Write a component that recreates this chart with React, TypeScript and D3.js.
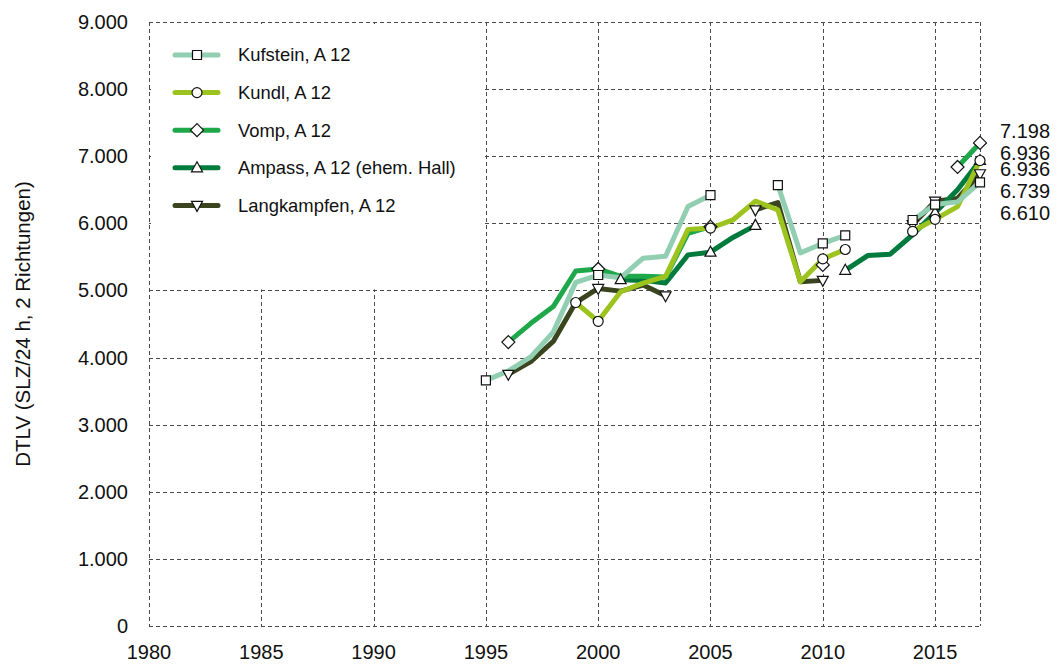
// DTLV time series - A 12 counting stations
import React, { useEffect, useRef } from 'react';
import * as d3 from 'd3';

const years = [1995, 1996, 1997, 1998, 1999, 2000, 2001, 2002, 2003, 2004, 2005, 2006,
  2007, 2008, 2009, 2010, 2011, 2012, 2013, 2014, 2015, 2016, 2017];

const kufstein = [3660, 3800, 4010, 4380, 5120, 5230, 5190, 5480, 5510, 6250, 6420, null,
  null, 6570, 5560, 5700, 5820, null, null, 6050, 6280, 6320, 6610];
const kundl = [null, null, null, null, 4820, 4540, 4980, 5110, 5210, 5910, 5930, 6050,
  6330, 6200, 5130, 5470, 5610, null, null, 5880, 6060, 6250, 6936];
const vomp = [null, 4230, 4510, 4760, 5290, 5320, 5210, 5210, 5200, 5850, 5950, null,
  null, null, null, 5380, null, null, null, null, null, 6840, 7198];
const ampass = [null, null, null, null, null, null, 5160, 5150, 5110, 5530, 5570, 5790,
  5970, null, null, null, 5300, 5520, 5540, 5830, 6160, 6500, 6936];
const langkampfen = [null, 3750, 3940, 4240, 4820, 5030, 4990, 5080, 4920, null, null, null,
  6200, 6310, 5130, 5150, null, null, null, 5980, 6330, 6370, 6739];

const seriesNames = ['Kufstein, A 12', 'Kundl, A 12', 'Vomp, A 12', 'Ampass, A 12 (ehem. Hall)', 'Langkampfen, A 12'];
const seriesValues = [kufstein, kundl, vomp, ampass, langkampfen];
const seriesColors = ['#92ceb2', '#9dc41e', '#1ea84a', '#007a3d', '#3a4520'];
const seriesMarkers = ['square', 'circle', 'diamond', 'triangleUp', 'triangleDown'];

const xTicks = [1980, 1985, 1990, 1995, 2000, 2005, 2010, 2015];
const yTicks = [0, 1000, 2000, 3000, 4000, 5000, 6000, 7000, 8000, 9000];

// end labels (top to bottom)
const endValues = [7198, 6936, 6936, 6739, 6610];
const endNudge = [-12, -8, 8, 17, 31];

const FONT = '"Liberation Sans", Arial, Helvetica, sans-serif';

const markerPath = (type: string, cx: number, cy: number) => {
  switch (type) {
    case 'square':
      return `M${cx - 4.5},${cy - 4.5}h9v9h-9Z`;
    case 'circle':
      return `M${cx + 5},${cy}A5,5 0 1,1 ${cx - 5},${cy}A5,5 0 1,1 ${cx + 5},${cy}Z`;
    case 'diamond':
      return `M${cx},${cy - 6.5}L${cx + 6.5},${cy}L${cx},${cy + 6.5}L${cx - 6.5},${cy}Z`;
    case 'triangleUp':
      return `M${cx},${cy - 6}L${cx + 5.5},${cy + 4}L${cx - 5.5},${cy + 4}Z`;
    default:
      return `M${cx},${cy + 6}L${cx + 5.5},${cy - 4}L${cx - 5.5},${cy - 4}Z`;
  }
};

const App: React.FC = () => {
  const svgRef = useRef<SVGSVGElement>(null);

  useEffect(() => {
    if (!svgRef.current) return;
    const svg = d3.select(svgRef.current);
    svg.selectAll('*').remove();

    const x = d3.scaleLinear().domain([1980, 2017]).range([149, 980]);
    const y = d3.scaleLinear().domain([0, 9000]).range([626, 22]);
    const fmt = d3.formatLocale({ decimal: ',', thousands: '.', grouping: [3], currency: ['', ''] }).format(',');

    const grid = svg.append('g')
      .attr('stroke', '#4a4a4a')
      .attr('stroke-width', 1)
      .attr('stroke-dasharray', '4,3')
      .attr('shape-rendering', 'crispEdges');

    yTicks.forEach(t => {
      grid.append('line')
        .attr('x1', x(1980)).attr('x2', x(2017))
        .attr('y1', Math.round(y(t)) + 0.5).attr('y2', Math.round(y(t)) + 0.5);
    });
    [...xTicks, 2017].forEach(t => {
      grid.append('line')
        .attr('x1', Math.round(x(t)) + 0.5).attr('x2', Math.round(x(t)) + 0.5)
        .attr('y1', y(9000)).attr('y2', y(0));
    });

    // legend box hides the inner grid cells
    svg.append('rect')
      .attr('x', x(1980) + 2)
      .attr('y', y(9000) + 2)
      .attr('width', x(1995) - x(1980) - 3)
      .attr('height', y(5000) - y(9000) - 3)
      .attr('fill', '#fff');

    // y tick labels
    svg.append('g').selectAll('text')
      .data(yTicks)
      .enter()
      .append('text')
      .attr('x', 128)
      .attr('y', d => y(d))
      .attr('dy', '0.35em')
      .attr('text-anchor', 'end')
      .attr('font-family', FONT)
      .attr('font-size', '20px')
      .attr('fill', '#111')
      .text(d => fmt(d));

    // x tick labels
    svg.append('g').selectAll('text')
      .data(xTicks)
      .enter()
      .append('text')
      .attr('x', d => x(d))
      .attr('y', 659)
      .attr('text-anchor', 'middle')
      .attr('font-family', FONT)
      .attr('font-size', '20px')
      .attr('fill', '#111')
      .text(d => String(d));

    svg.append('text')
      .attr('transform', `translate(30,${(y(0) + y(9000)) / 2}) rotate(-90)`)
      .attr('text-anchor', 'middle')
      .attr('font-family', FONT)
      .attr('font-size', '20.5px')
      .attr('fill', '#111')
      .text('DTLV (SLZ/24 h, 2 Richtungen)');

    // lines (last series at the bottom)
    const line = d3.line<number | null>()
      .defined(d => d !== null)
      .x((_, i) => x(years[i]))
      .y(d => y(d as number));

    const order = [4, 3, 2, 1, 0];
    order.forEach(s => {
      svg.append('path')
        .datum(seriesValues[s])
        .attr('d', line)
        .attr('fill', 'none')
        .attr('stroke', seriesColors[s])
        .attr('stroke-width', 5)
        .attr('stroke-linejoin', 'round');
    });

    // markers: every 5 years, at segment ends, and the last year
    order.forEach(s => {
      const vals = seriesValues[s];
      vals.forEach((v, i) => {
        if (v === null) return;
        const prev = i > 0 ? vals[i - 1] : null;
        const next = i < vals.length - 1 ? vals[i + 1] : null;
        const show = years[i] % 5 === 0 || prev === null || next === null;
        if (!show) return;
        svg.append('path')
          .attr('d', markerPath(seriesMarkers[s], x(years[i]), y(v)))
          .attr('fill', '#fff')
          .attr('stroke', '#111')
          .attr('stroke-width', 1.2);
      });
    });

    // end value labels
    svg.append('g').selectAll('text')
      .data(endValues)
      .enter()
      .append('text')
      .attr('x', 1000)
      .attr('y', (d, i) => y(d) + endNudge[i])
      .attr('dy', '0.35em')
      .attr('font-family', FONT)
      .attr('font-size', '20px')
      .attr('fill', '#111')
      .text(d => fmt(d));

    // legend
    const legend = svg.append('g');
    seriesNames.forEach((name, i) => {
      const ly = 55 + i * 37.6;
      legend.append('line')
        .attr('x1', 175).attr('x2', 218)
        .attr('y1', ly).attr('y2', ly)
        .attr('stroke', seriesColors[i])
        .attr('stroke-width', 5)
        .attr('stroke-linecap', 'round');
      legend.append('path')
        .attr('d', markerPath(seriesMarkers[i], 197, ly))
        .attr('fill', '#fff')
        .attr('stroke', '#111')
        .attr('stroke-width', 1.2);
      legend.append('text')
        .attr('x', 238)
        .attr('y', ly)
        .attr('dy', '0.35em')
        .attr('font-family', FONT)
        .attr('font-size', '18.4px')
        .attr('fill', '#111')
        .text(name);
    });
  }, []);

  return (
    <svg
      ref={svgRef}
      width={1059}
      height={666}
      style={{ position: 'absolute', left: 0, top: 0, background: '#fff' }}
    />
  );
};

export default App;
